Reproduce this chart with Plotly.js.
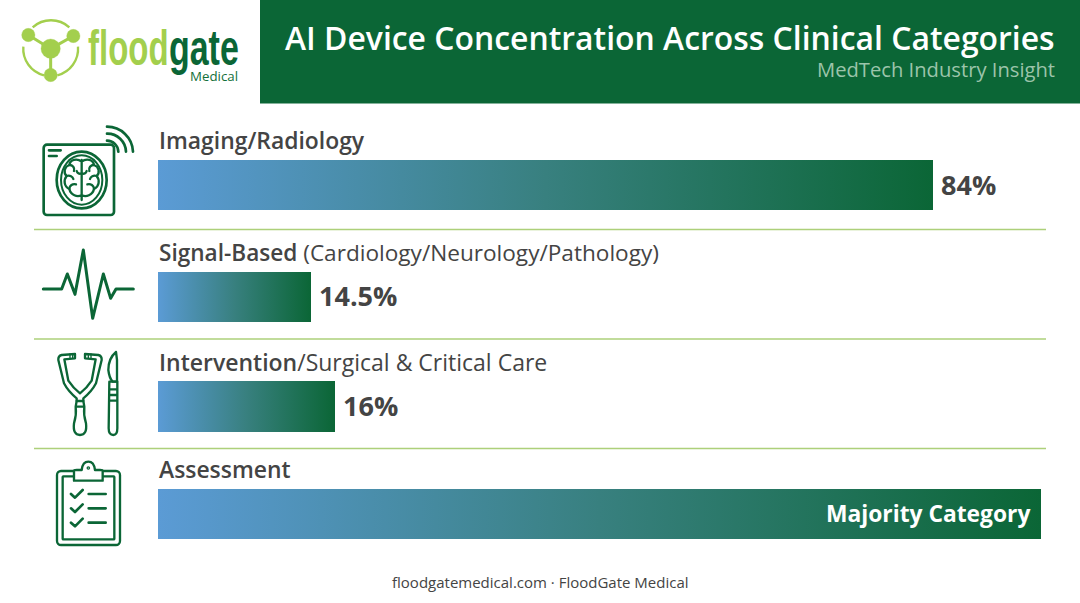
<!DOCTYPE html>
<html><head><meta charset="utf-8">
<script src="https://cdn.plot.ly/plotly-3.0.1.min.js"></script>
<style>html,body{margin:0;padding:0;background:#fff;overflow:hidden}#c{width:1080px;height:603px}</style>
</head><body><div id="c"></div>
<script>
// Data
const categories = ['Imaging/Radiology', 'Signal-Based', 'Intervention', 'Assessment'];
const categoryHeads = ['Imaging/Radiology', 'Signal-Based', 'Intervention', 'Assessment'];
const categoryTails = ['', ' (Cardiology/Neurology/Pathology)', '/Surgical &amp; Critical Care', ''];
// Bar lengths as drawn in the reference (share of the longest bar); they are not proportional to the printed labels.
const barLengths = [87.8, 17.3, 20.0, 100];
const valueLabels = ['84%', '14.5%', '16%', 'Majority Category'];
const chartTitle = 'AI Device Concentration Across Clinical Categories';
const chartSubtitle = 'MedTech Industry Insight';
const footerText = 'floodgatemedical.com · FloodGate Medical';

const W = 1080, H = 603;
const DARK = '#0b6636', LIME = '#a3cf4d', TEXT = '#444444', FONT = '"Open Sans", sans-serif';
const bands = [[160, 210], [272, 322], [381, 432], [489, 539]];
const px = x => x / W, py = y => 1 - y / H;

const traces = categories.map((c, i) => ({
  type: 'bar', orientation: 'h', name: c, y: [c], x: [barLengths[i]],
  xaxis: 'x', yaxis: i ? 'y' + (i + 1) : 'y', width: 1,
  marker: {color: '#3a8080', line: {width: 0}}, hoverinfo: 'skip', showlegend: false
}));

const layout = {
  width: W, height: H, margin: {l: 0, r: 0, t: 0, b: 0}, autosize: false,
  paper_bgcolor: '#fff', plot_bgcolor: 'rgba(0,0,0,0)', showlegend: false, hovermode: false, bargap: 0,
  xaxis: {domain: [px(158), px(1041)], range: [0, 100], visible: false, fixedrange: true},
  shapes: [
    {type: 'rect', xref: 'paper', yref: 'paper', x0: px(260), x1: 1, y0: py(103.5), y1: 1, fillcolor: DARK, line: {width: 0}, layer: 'below'},
    ...[229.5, 339, 448.5].map(y => ({type: 'line', xref: 'paper', yref: 'paper', x0: px(34), x1: px(1046), y0: py(y), y1: py(y), line: {color: '#add07a', width: 1.6}, layer: 'below'}))
  ],
  annotations: [], images: []
};
bands.forEach((b, i) => {
  layout[i ? 'yaxis' + (i + 1) : 'yaxis'] = {domain: [py(b[1]), py(b[0])], visible: false, fixedrange: true, type: 'category', anchor: 'x', range: [-0.5, 0.5]};
});

const note = (text, x, y, size, color, anchor, weight) => ({
  text, xref: 'paper', yref: 'paper', x: px(x), y: py(y), xanchor: anchor || 'left', yanchor: 'middle',
  showarrow: false, borderpad: 0, font: {family: FONT, size, color, weight: weight || 400}
});
const A = layout.annotations;
A.push(note(chartTitle, 1056, 37, 31.9, '#fff', 'right', 600));
A.push(note(chartSubtitle, 1056, 69.5, 20.2, '#9cc4aa', 'right', 400));
A.push(note(footerText, 540, 582, 15, TEXT, 'center', 400));
const labelY = [140.5, 252.5, 361.5, 469.5];
const labelSize = [22.9, 22.6, 23, 22.9];
categoryHeads.forEach((t, i) => A.push(note(
  `<span style="font-weight:600">${t}</span>${categoryTails[i]}`, 157.5, labelY[i], labelSize[i], TEXT)));
valueLabels.forEach((t, i) => {
  const inside = i === 3;
  A.push({text: t, xref: 'x', yref: i ? 'y' + (i + 1) : 'y', x: barLengths[i], y: categories[i],
    xanchor: inside ? 'right' : 'left', yanchor: 'middle', xshift: inside ? -10.5 : 7, yshift: 1, showarrow: false, borderpad: 0,
    font: {family: FONT, size: inside ? 22.8 : 27, weight: 700, color: inside ? '#fff' : TEXT}});
});
// logo wordmark (squeezed to the condensed width in squeezeLogo)
const LOGO = '"Liberation Sans", sans-serif';
const logoWord = (text, x, anchor, color) => ({text, xref: 'paper', yref: 'paper', x: px(x), y: py(48), xanchor: anchor, yanchor: 'middle', showarrow: false, borderpad: 0, font: {family: LOGO, size: 50, weight: 700, color}});
A.push(logoWord('flood', 87, 'left', LIME));
A.push(logoWord('gate', 239.5, 'right', DARK));
A.push(note('Medical', 238.5, 76, 13.3, '#14703a', 'right', 400));

// icons, drawn in a 3x local grid
const svgUri = (vw, vh, body) => 'data:image/svg+xml;charset=utf-8,' + encodeURIComponent(
  `<svg xmlns="http://www.w3.org/2000/svg" width="${vw}" height="${vh}" viewBox="0 0 ${vw} ${vh}">${body}</svg>`);
const st = w => `fill="none" stroke="${DARK}" stroke-width="${w}" stroke-linecap="round" stroke-linejoin="round"`;
const place = (source, x, y, w, h) => ({source, xref: 'paper', yref: 'paper', x: px(x), y: py(y), sizex: w / W, sizey: h / H, xanchor: 'left', yanchor: 'top', sizing: 'stretch', layer: 'above'});

const iconTop = `<g ${st(8)}>
<rect x="41" y="89" width="211" height="211" rx="10"/>
<path d="M57 106H92M57 123H80"/>
<path d="M231 35A78 78 0 0 1 309 110M231 56A56 56 0 0 1 288 110M231 77A34 34 0 0 1 265 110"/>
<ellipse cx="155" cy="195" rx="75" ry="85"/><ellipse cx="155" cy="195" rx="62" ry="74" stroke-width="6"/>
<path stroke-width="7" d="M155 135V255M155 140C140 128 120 135 118 150C102 155 100 175 110 183C100 195 102 215 118 222C122 240 142 248 155 240M155 140C170 128 190 135 192 150C208 155 210 175 200 183C210 195 208 215 192 222C188 240 168 248 155 240"/>
<path stroke-width="7" d="M118 150C128 150 135 158 132 168M110 183C120 180 128 185 130 192M118 222C118 212 128 205 138 208M155 175C148 178 142 175 140 168M192 150C182 150 175 158 178 168M200 183C190 180 182 185 180 192M192 222C192 212 182 205 172 208M155 175C162 178 168 175 170 168"/>
<path stroke-width="9" d="M40 522H95L112 477L135 538L160 405L188 610L220 477L242 550L258 522H310"/>
</g>`;
const iconBottom = `<g ${st(7)}>
<path d="M135 42L95 45Q84 48 85 60L102 130Q115 155 140 175V183H160V175Q185 155 198 130L215 60Q216 48 205 45L165 42V55L197 58L185 122Q170 145 150 160Q130 145 115 122L103 58L135 55Z"/>
<path d="M140 183L137 200H163L160 183M137 200Q140 225 132 250Q128 285 150 285Q172 285 168 250Q160 225 163 200"/>
<path d="M120 42V55M128 42V55M175 42V55M183 42V55" stroke-width="4"/>
<path d="M258 36Q235 55 235 90Q238 115 248 125H261V60Z"/>
<path d="M238 125H262V265Q262 285 250 285Q236 285 236 265ZM238 148H262M238 165H262M238 182H262"/>
<rect x="81" y="393" width="189" height="222" rx="12"/>
<rect x="98" y="409" width="155" height="189" rx="2"/>
<path fill="#fff" d="M132 393Q132 390 140 390H155Q158 365 175 365Q192 365 195 390H210Q218 390 218 393V422H132Z"/>
<circle cx="175" cy="384" r="2"/>
<path stroke-width="8" d="M123 462L135 473L158 450M123 505L135 516L158 493M123 548L135 559L158 536"/>
<path stroke-width="8" d="M176 462H227M176 505H227M176 548H227"/>
</g>`;
const logoMark = `<g fill="${LIME}" stroke="${LIME}">
<path fill="none" stroke-width="7" d="M98 82A82 82 0 0 1 208 82M234 140A82 82 0 0 1 172 226M132 226A82 82 0 0 1 70 140"/>
<path fill="none" stroke-width="9" d="M85 105L152 146L220 108M152 146V225"/>
<circle cx="85" cy="105" r="20"/><circle cx="220" cy="108" r="20"/><circle cx="152" cy="225" r="20"/><circle cx="152" cy="146" r="29"/></g>`;
layout.images = [
  place(svgUri(390, 660, iconTop), 30, 115, 130, 220),
  place(svgUri(390, 660, iconBottom), 30, 340, 130, 220),
  place(svgUri(330, 330, logoMark), 0, 0, 110, 110)
];

function squeezeLogo(gd) {
  gd.querySelectorAll('.annotation text').forEach(t => {
    const s = t.textContent;
    if (s !== 'flood' && s !== 'gate') return;
    t.style.transformBox = 'fill-box';
    t.style.transformOrigin = s === 'flood' ? 'left center' : 'right center';
    t.style.transform = s === 'flood' ? 'scaleX(0.66)' : 'scaleX(0.68)';
  });
}
function paintBars() {
  const gd = document.getElementById('c');
  const svg = gd.querySelector('.main-svg');
  if (!svg.querySelector('#barGrad')) {
    const ns = 'http://www.w3.org/2000/svg';
    const g = document.createElementNS(ns, 'linearGradient');
    g.id = 'barGrad';
    [['0%', '#5b9bd5'], ['50%', '#38807f'], ['100%', DARK]].forEach(([o, c]) => {
      const s = document.createElementNS(ns, 'stop');
      s.setAttribute('offset', o); s.setAttribute('stop-color', c); g.appendChild(s);
    });
    svg.querySelector('defs').appendChild(g);
  }
  gd.querySelectorAll('.bars .point path').forEach(p => { p.style.fill = 'url(#barGrad)'; });
  squeezeLogo(gd);
}
Plotly.newPlot('c', traces, layout, {displayModeBar: false, staticPlot: true, responsive: false}).then(gd => {
  paintBars();
  gd.on('plotly_afterplot', paintBars);
});
</script></body></html>
